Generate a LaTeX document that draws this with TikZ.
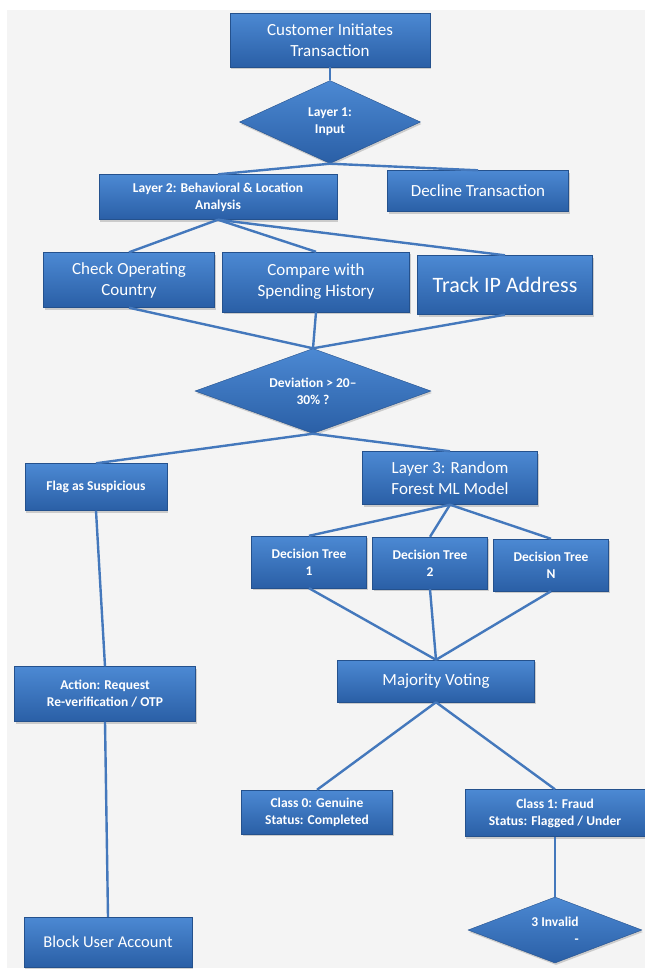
\documentclass[tikz,border=0pt]{standalone}
\usepackage{fontspec}
\setmainfont{Carlito}
\usetikzlibrary{shapes.geometric,shadows}

\definecolor{boxtop}{HTML}{4C89D3}
\definecolor{boxmid}{HTML}{3470BE}
\definecolor{boxbottom}{HTML}{2A5FA6}
\definecolor{flowline}{HTML}{4478BC}
\definecolor{sheet}{HTML}{F4F4F4}

\tikzset{
	flow box/.style={
		rectangle, draw=boxbottom!85!black, line width=0.4pt,
		top color=boxtop, middle color=boxmid, bottom color=boxbottom,
		text=white, align=center, inner sep=0pt,
		drop shadow={shadow xshift=1pt, shadow yshift=-2pt, opacity=0.35}
	},
	flow diamond/.style={flow box, diamond, aspect=2},
	flow line/.style={draw=flowline, line width=2.4pt},
	big text/.style={font=\fontsize{17}{21}\selectfont},
	small text/.style={font=\bfseries\fontsize{13.5}{17}\selectfont}
}

\begin{document}
\begin{tikzpicture}[x=1pt, y=-1pt]
		\fill [white] (0,0) rectangle (645,975);
		\fill [sheet] (7,10) rectangle (645,968);
		\useasboundingbox (0,0) rectangle (645,975);

		% layer 1 and 2
		\node [flow box, big text, minimum width=200, minimum height=54] (customer) at (330,40) {Customer Initiates\\Transaction};
		\node [flow diamond, small text, minimum width=181, minimum height=83] (layer1) at (330,122) {Layer 1:\\Input};
		\node [flow box, small text, minimum width=238, minimum height=45] (layer2) at (218,197) {Layer 2: Behavioral \& Location\\Analysis};
		\node [flow box, big text, minimum width=181, minimum height=41] (decline) at (478,191) {Decline Transaction};
		\node [flow box, big text, minimum width=171, minimum height=55] (country) at (129,280) {Check Operating\\Country};
		\node [flow box, big text, minimum width=187, minimum height=60] (history) at (316,282) {Compare with\\Spending History};
		\node [flow box, font=\fontsize{22}{26}\selectfont, minimum width=175, minimum height=59] (ip) at (505,285) {Track IP Address};
		\node [flow diamond, small text, minimum width=236, minimum height=85] (deviation) at (313,391) {Deviation > 20–\\30\% ?};

		% layer 3
		\node [flow box, small text, minimum width=142, minimum height=47] (flag) at (96,487) {Flag as Suspicious};
		\node [flow box, big text, minimum width=175, minimum height=53] (layer3) at (450,478) {Layer 3: Random\\Forest ML Model};
		\foreach \t/\x/\y in {1/309/562, 2/430/563, N/551/565}
			\node [flow box, small text, minimum width=115, minimum height=52] (tree\t) at (\x,\y) {Decision Tree\\\t};
		\node [flow box, big text, minimum width=197, minimum height=42] (voting) at (436,681) {Majority Voting};
		\node [flow box, small text, minimum width=181, minimum height=55] (action) at (105,694) {Action: Request\\Re-verification / OTP};
		\node [flow box, small text, minimum width=151, minimum height=44] (genuine) at (317,812) {Class 0: Genuine\\Status: Completed};
		\node [flow box, small text, minimum width=180, minimum height=47] (fraud) at (555,813) {Class 1: Fraud\\Status: Flagged / Under};
		\node [flow diamond, small text, align=right, minimum width=174, minimum height=66] (invalid) at (555,930) {3 Invalid\\-};
		\node [flow box, font=\fontsize{16.5}{20}\selectfont, minimum width=168, minimum height=50] (block) at (108,942) {Block User Account};

		% connectors
		\draw [flow line] (customer.south) -- (layer1.north);
		\draw [flow line] (layer1.south) -- (layer2.north);
		\draw [flow line] (layer1.south) -- (decline.north);
		\foreach \b in {country, history, ip} {
			\draw [flow line] (layer2.south) -- (\b.north);
			\draw [flow line] (\b.south) -- (deviation.north);
		}
		\draw [flow line] (deviation.south) -- (flag.north);
		\draw [flow line] (deviation.south) -- (layer3.north);
		\foreach \t in {1, 2, N} {
			\draw [flow line] (layer3.south) -- (tree\t.north);
			\draw [flow line] (tree\t.south) -- (voting.north);
		}
		\draw [flow line] (voting.south) -- (genuine.north);
		\draw [flow line] (voting.south) -- (fraud.north);
		\draw [flow line] (fraud.south) -- (invalid.north);
		\draw [flow line] (flag.south) -- (action.north);
		\draw [flow line] (action.south) -- (block.north);
\end{tikzpicture}
\end{document}
